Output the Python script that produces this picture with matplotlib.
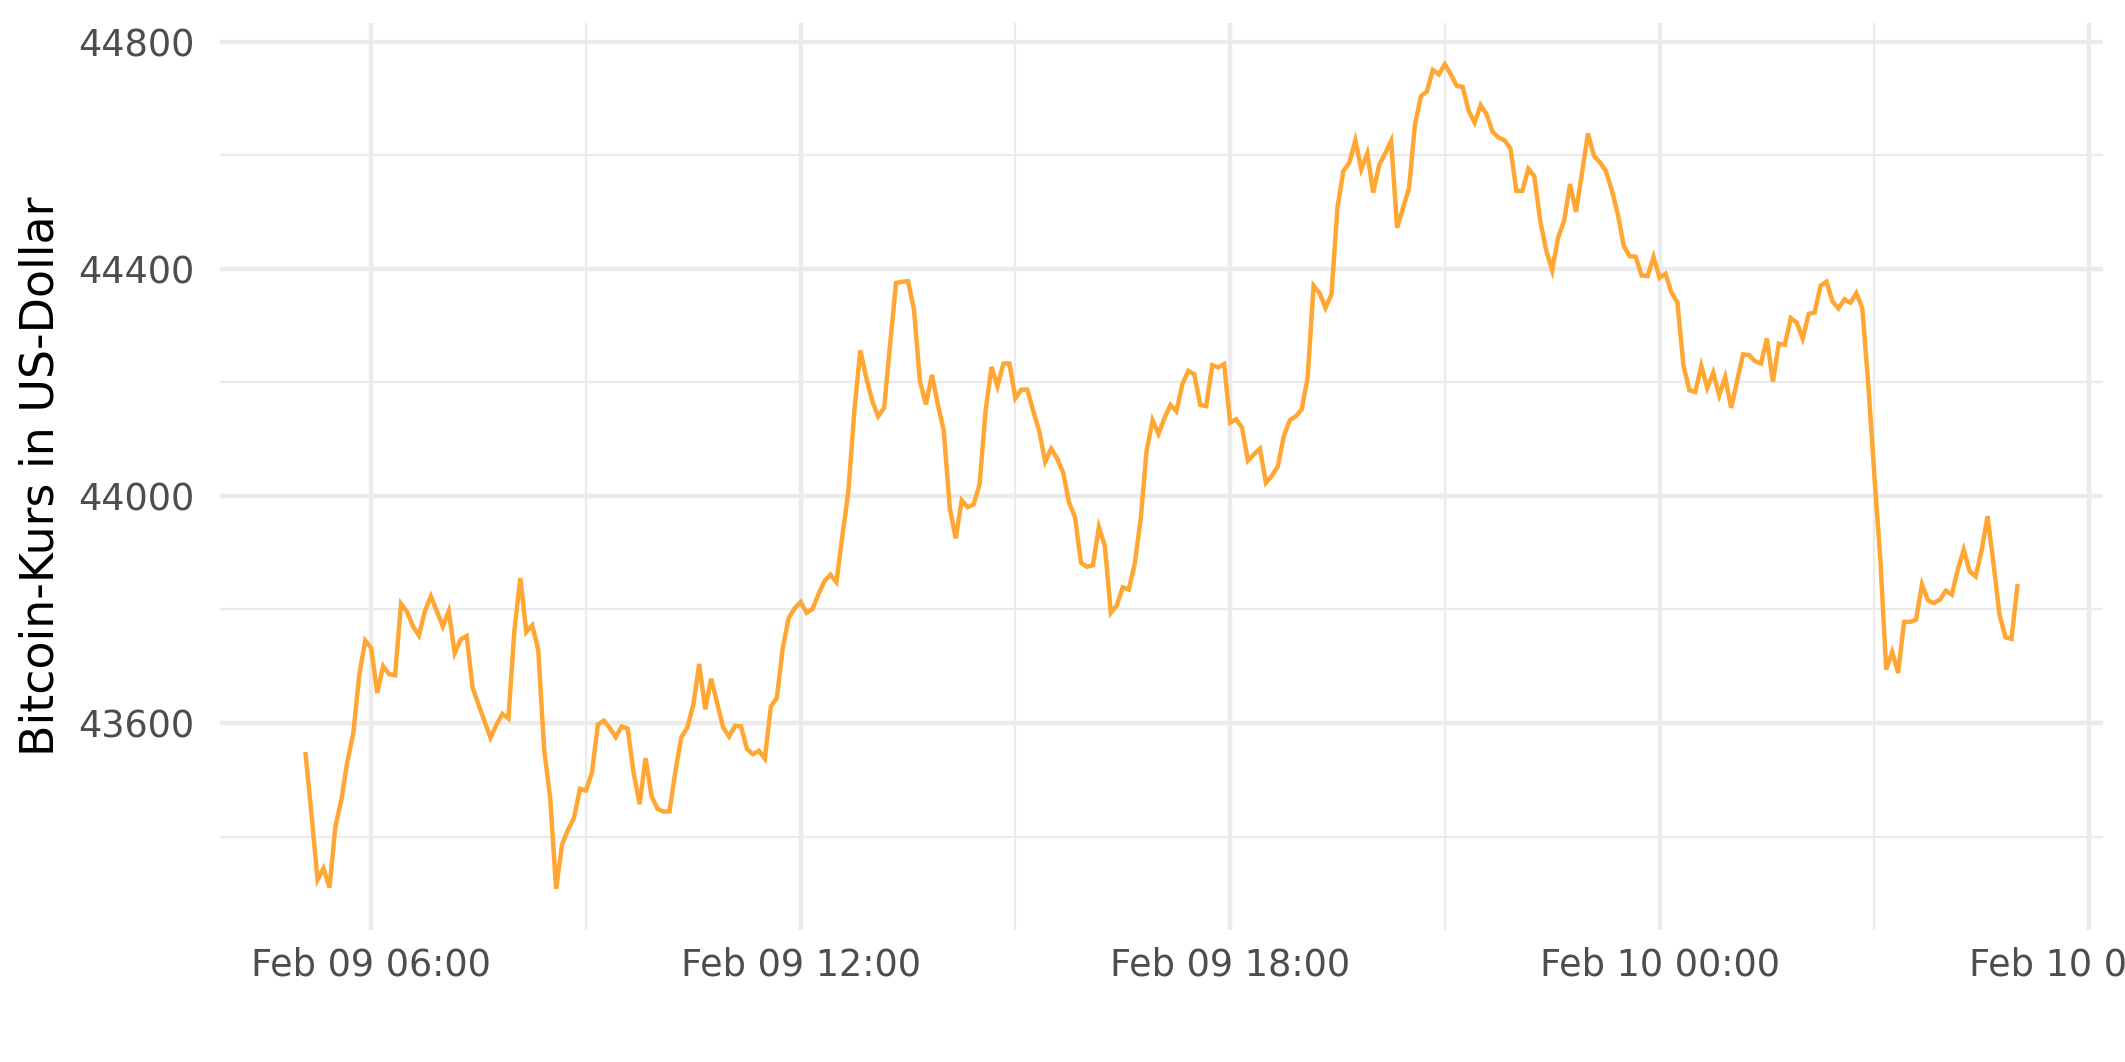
import matplotlib
matplotlib.use('Agg')

import numpy as np
import pandas as pd
import matplotlib.pyplot as plt
import matplotlib.dates as mdates
from matplotlib.ticker import MultipleLocator

# Bitcoin price, 5-minute steps starting Feb 09 05:05
start_time = '2022-02-09 05:05'
price = [
    43545, 43438, 43324, 43344, 43310, 43418, 43465, 43532, 43582, 43685,
    43745, 43732, 43653, 43700, 43686, 43684, 43810, 43796, 43770, 43754,
    43797, 43823, 43797, 43770, 43797, 43723, 43747, 43753, 43662, 43632,
    43603, 43574, 43597, 43616, 43608, 43762, 43855, 43760, 43772, 43729,
    43553, 43468, 43308, 43386, 43412, 43433, 43484, 43481, 43512, 43597,
    43604, 43591, 43575, 43594, 43590, 43512, 43457, 43538, 43471, 43449,
    43444, 43444, 43515, 43575, 43592, 43632, 43704, 43624, 43678, 43635,
    43592, 43576, 43595, 43594, 43554, 43545, 43551, 43537, 43629, 43644,
    43732, 43785, 43802, 43813, 43794, 43801, 43827, 43850, 43861, 43848,
    43930, 44008, 44150, 44256, 44208, 44167, 44140, 44155, 44267, 44375,
    44377, 44378, 44328, 44202, 44161, 44213, 44161, 44114, 43978, 43925,
    43992, 43980, 43985, 44020, 44149, 44227, 44193, 44233, 44233, 44172,
    44187, 44187, 44149, 44114, 44060, 44083, 44066, 44041, 43988, 43962,
    43882, 43875, 43878, 43945, 43912, 43794, 43807, 43839, 43835, 43880,
    43958, 44079, 44133, 44109, 44137, 44160, 44149, 44197, 44220, 44214,
    44160, 44158, 44230, 44226, 44232, 44129, 44135, 44120, 44062, 44073,
    44083, 44023, 44035, 44052, 44105, 44133, 44140, 44152, 44208, 44370,
    44357, 44331, 44355, 44508, 44572, 44587, 44626, 44575, 44603, 44534,
    44583, 44603, 44625, 44472, 44507, 44542, 44654, 44704, 44712, 44750,
    44742, 44760, 44742, 44722, 44720, 44678, 44657, 44688, 44672, 44641,
    44631, 44626, 44612, 44537, 44537, 44576, 44563, 44484, 44432, 44397,
    44455, 44484, 44549, 44500, 44569, 44638, 44599, 44587, 44572, 44538,
    44496, 44440, 44422, 44421, 44388, 44387, 44421, 44384, 44391, 44358,
    44340, 44230, 44186, 44183, 44229, 44190, 44217, 44177, 44209, 44155,
    44202, 44249, 44248, 44237, 44233, 44277, 44201, 44268, 44266, 44313,
    44305, 44277, 44320, 44323, 44370, 44377, 44342, 44330, 44346, 44340,
    44357, 44330, 44196, 44038, 43891, 43694, 43725, 43688, 43778, 43778,
    43782, 43844, 43816, 43811, 43817, 43833, 43826, 43870, 43905, 43867,
    43858, 43904, 43964, 43880, 43790, 43751, 43748, 43841,
]
times = pd.date_range(start_time, periods=len(price), freq='5min')

y_label = 'Bitcoin-Kurs in US-Dollar'

fig = plt.figure(figsize=(2125 / 300, 1062 / 300), dpi=300)
ax = fig.add_axes([220 / 2125, 1 - 930 / 1062, 1883 / 2125, 907 / 1062])

ax.plot(times, price, color='#FFA633', linewidth=1.07, solid_joinstyle='miter')
ax.margins(x=0.05, y=0.05)

# ggplot-like minimal theme
ax.xaxis.set_major_locator(mdates.HourLocator(byhour=[0, 6, 12, 18]))
ax.xaxis.set_minor_locator(mdates.HourLocator(byhour=[3, 9, 15, 21]))
ax.xaxis.set_major_formatter(mdates.DateFormatter('%b %d %H:%M'))
ax.yaxis.set_major_locator(MultipleLocator(400))
ax.yaxis.set_minor_locator(MultipleLocator(200))

ax.grid(which='major', color='#EBEBEB', linewidth=1.07)
ax.grid(which='minor', color='#EBEBEB', linewidth=0.53)
ax.set_axisbelow(True)
for s in ax.spines.values():
    s.set_visible(False)
ax.tick_params(which='both', length=0)
ax.tick_params(axis='both', labelsize=8.8, labelcolor='#4D4D4D')
ax.tick_params(axis='x', pad=4)
ax.tick_params(axis='y', pad=6.2)

ax.set_ylabel(y_label, fontsize=11, color='black')
ax.yaxis.set_label_coords(-0.083, 0.5)

fig.savefig('out.png', dpi=300)
plt.close(fig)
